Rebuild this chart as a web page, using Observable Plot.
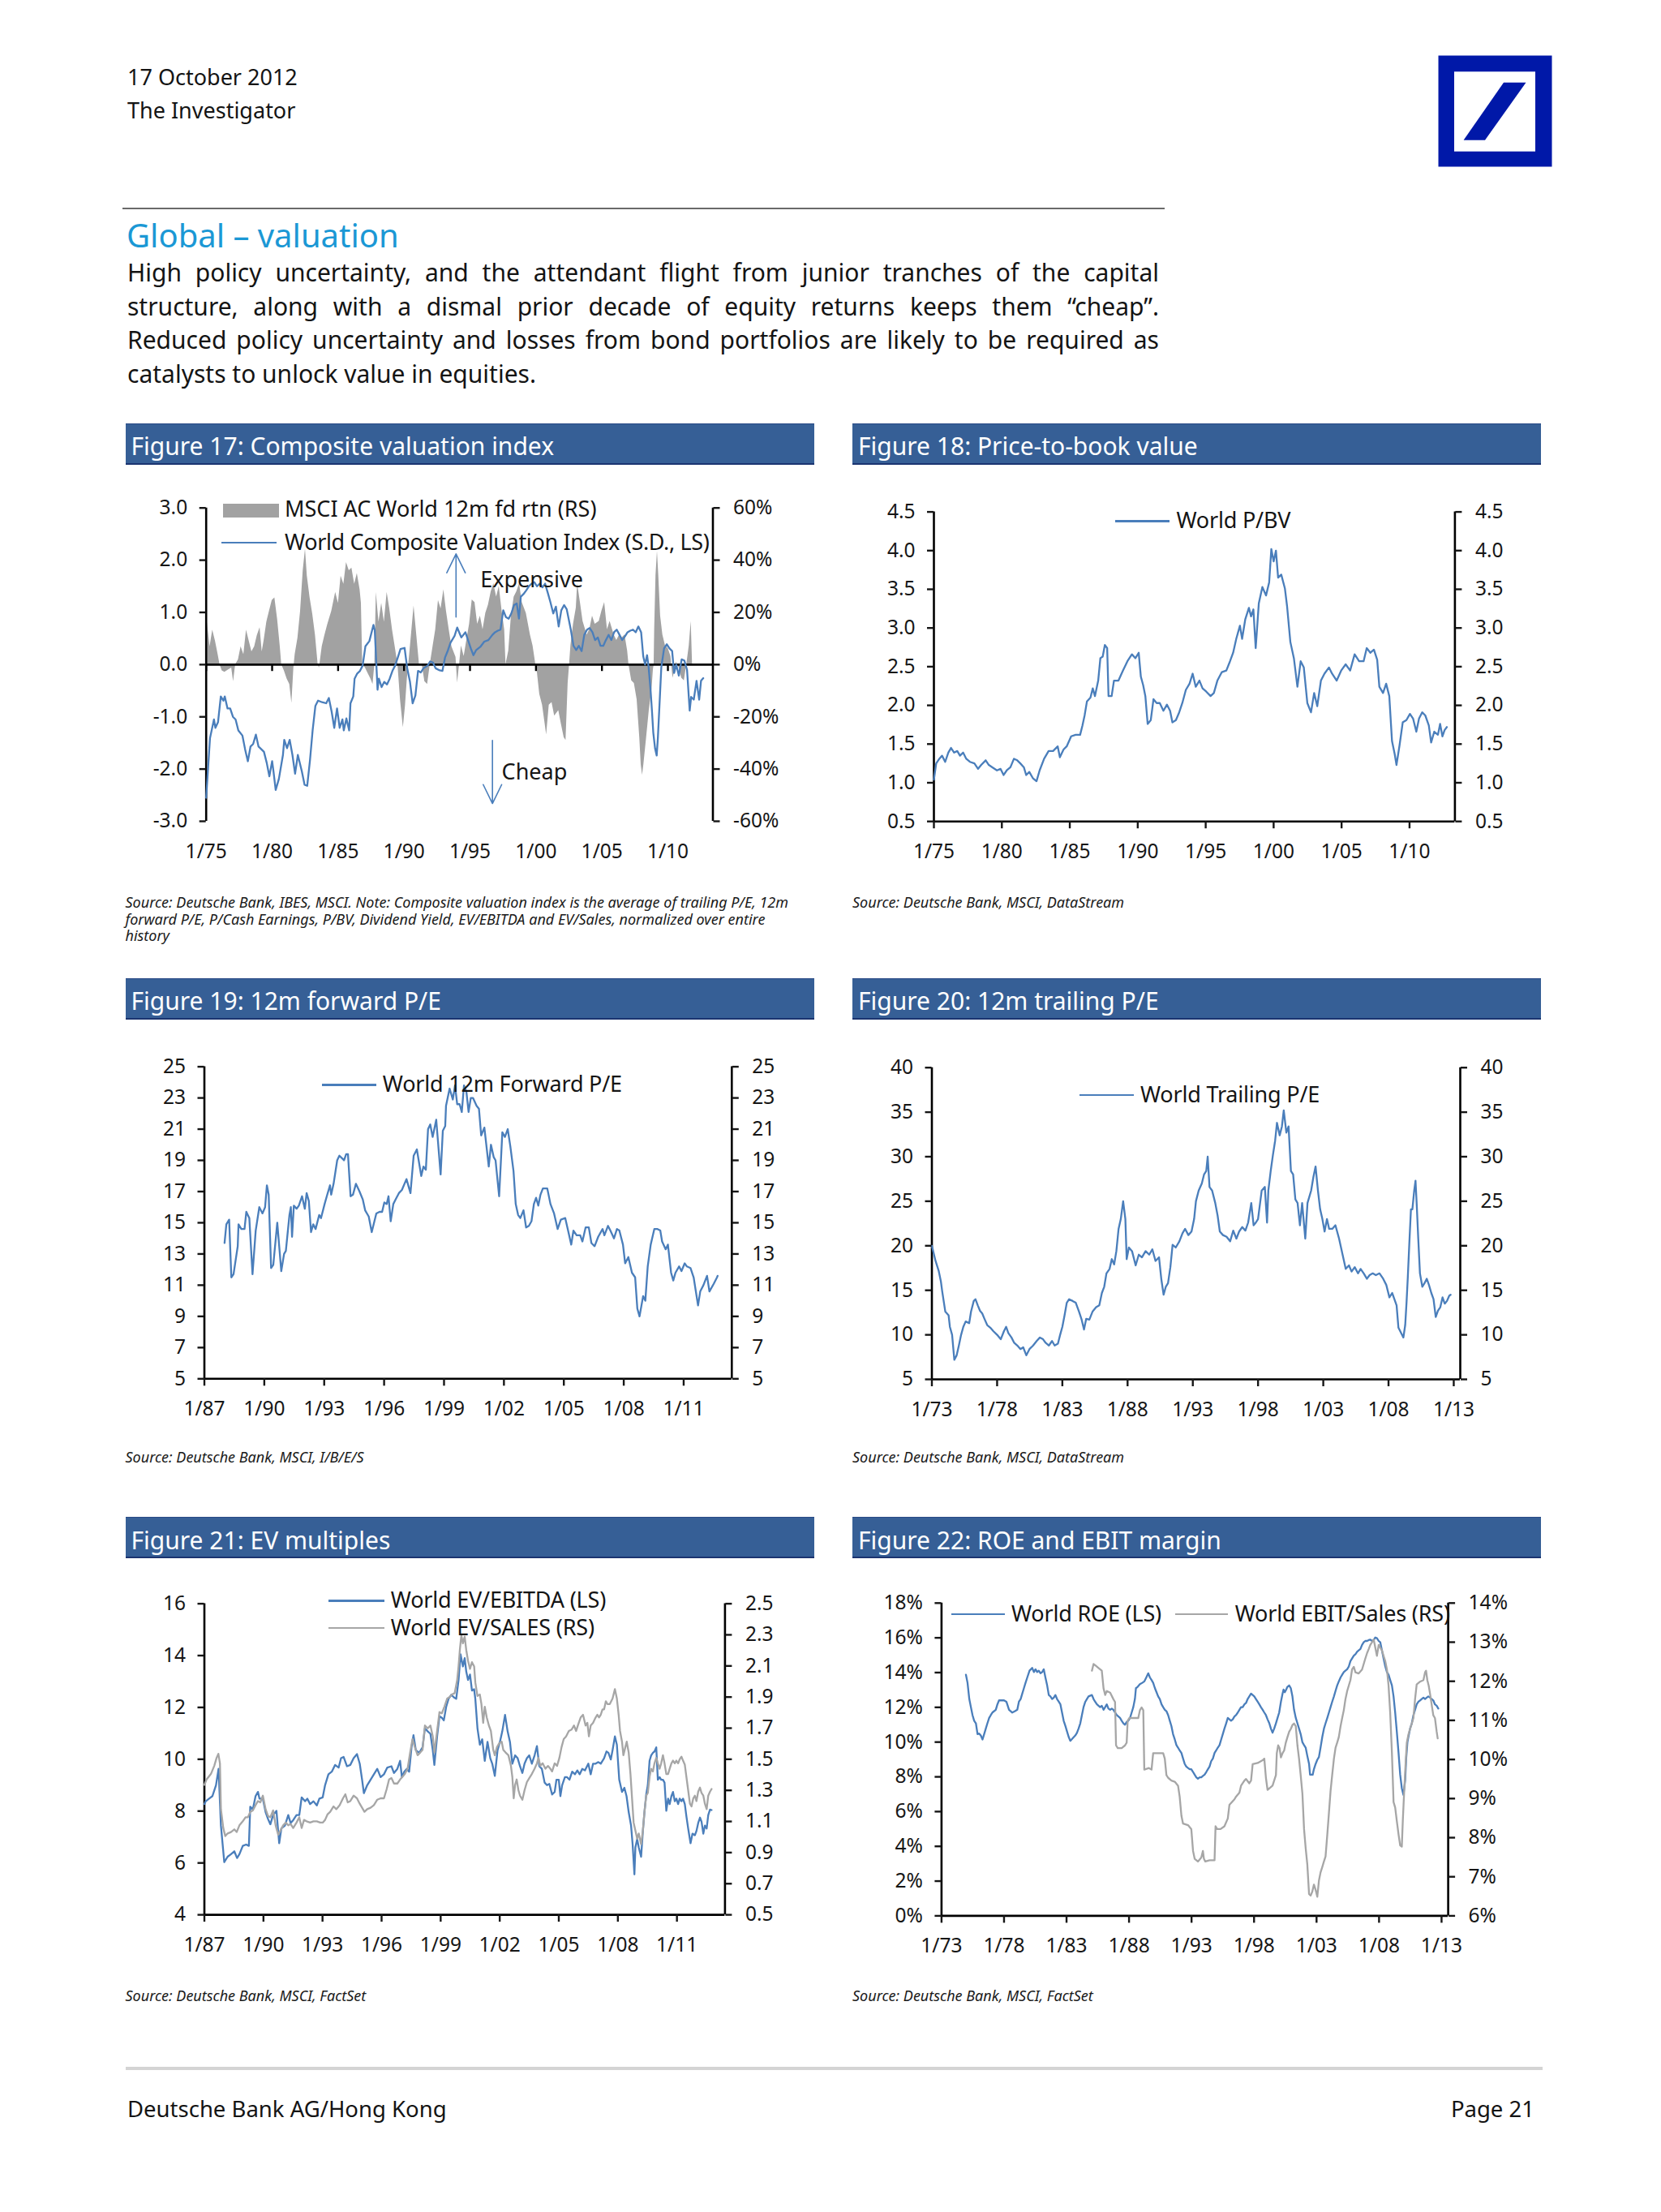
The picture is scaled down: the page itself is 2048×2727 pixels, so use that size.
<!DOCTYPE html>
<html>
<head>
<meta charset="utf-8">
<script src="https://cdn.jsdelivr.net/npm/d3@7"></script>
<script src="https://cdn.jsdelivr.net/npm/@observablehq/plot@0.6"></script>
<style>
  html, body { margin: 0; padding: 0; background: #ffffff; }
  #page { position: relative; width: 2048px; height: 2727px; background: #ffffff; overflow: hidden;
          font-family: "Noto Sans", "DejaVu Sans", sans-serif; color: #141414; }
  .t { position: absolute; white-space: nowrap; }
  .bar { position: absolute; background: #365f96; border-bottom: 2px solid #1b3470; border-top: 1px solid #2a4a86; box-sizing: border-box; }
  .bar span { position: absolute; left: 7px; color: #ffffff; font-size: 30px; line-height: 36px; white-space: nowrap; }
  .src { position: absolute; font-style: italic; font-size: 18px; line-height: 20.5px; color: #1a1a1a; white-space: nowrap; }
  .chart { position: absolute; }
  .para { position: absolute; left: 157px; width: 1272px; font-size: 30px; line-height: 41.5px; color: #141414; }
  .para div { text-align: justify; text-align-last: justify; white-space: normal; }
  .para div.last { text-align-last: left; }
</style>
</head>
<body>
<div id="page"></div>
<script>
// ---------------- DATA ----------------
// Figure 17: World Composite Valuation Index (S.D., left scale)  [decimal year, value]
const composite17 = [[1975.00,-2.55],[1975.29,-1.41],[1975.59,-1.05],[1975.70,-1.21],[1975.90,-1.10],[1976.11,-0.61],[1976.31,-0.69],[1976.41,-0.61],[1976.62,-0.84],[1976.82,-0.84],[1977.03,-1.00],[1977.23,-1.05],[1977.44,-1.26],[1977.75,-1.36],[1977.95,-1.62],[1978.16,-1.85],[1978.36,-1.57],[1978.56,-1.52],[1978.77,-1.34],[1978.97,-1.57],[1979.18,-1.62],[1979.38,-1.67],[1979.59,-1.88],[1979.79,-2.14],[1980.00,-1.85],[1980.10,-2.04],[1980.27,-2.40],[1980.51,-2.19],[1980.82,-1.73],[1980.92,-1.44],[1981.13,-1.60],[1981.33,-1.44],[1981.54,-1.73],[1981.74,-2.09],[1981.95,-1.73],[1982.25,-2.04],[1982.46,-2.30],[1982.66,-2.32],[1982.87,-1.83],[1983.07,-1.26],[1983.28,-0.79],[1983.48,-0.69],[1983.79,-0.72],[1984.10,-0.74],[1984.30,-0.64],[1984.51,-0.90],[1984.71,-1.21],[1984.92,-0.84],[1985.12,-1.21],[1985.33,-1.05],[1985.43,-1.26],[1985.63,-1.03],[1985.84,-1.26],[1985.94,-0.74],[1986.15,-0.61],[1986.25,-0.27],[1986.45,-0.17],[1986.66,-0.12],[1986.86,-0.02],[1987.07,0.35],[1987.37,0.45],[1987.68,0.76],[1987.78,0.66],[1987.99,-0.48],[1988.09,-0.27],[1988.30,-0.43],[1988.50,-0.33],[1988.71,-0.38],[1988.91,-0.27],[1989.12,-0.12],[1989.32,-0.02],[1989.53,0.14],[1989.73,0.30],[1990.04,0.32],[1990.24,-0.07],[1990.45,-0.33],[1990.65,-0.74],[1990.86,-0.59],[1991.06,-0.12],[1991.27,-0.15],[1991.47,-0.07],[1991.78,-0.02],[1991.98,0.06],[1992.19,0.04],[1992.39,-0.07],[1992.70,-0.11],[1992.91,-0.12],[1993.11,0.14],[1993.32,0.27],[1993.52,0.42],[1993.83,0.55],[1994.03,0.71],[1994.24,0.58],[1994.34,0.52],[1994.65,0.62],[1994.85,0.47],[1995.06,0.31],[1995.26,0.18],[1995.47,0.28],[1995.78,0.34],[1996.08,0.44],[1996.39,0.47],[1996.70,0.57],[1996.90,0.62],[1997.11,0.65],[1997.31,0.67],[1997.52,1.04],[1997.72,0.91],[1997.93,0.88],[1998.13,0.98],[1998.34,1.14],[1998.54,1.17],[1998.71,0.88],[1998.85,1.30],[1999.05,1.35],[1999.26,1.42],[1999.46,1.50],[1999.67,1.55],[1999.87,1.58],[2000.08,1.50],[2000.28,1.55],[2000.49,1.48],[2000.69,1.55],[2000.90,1.37],[2001.10,1.19],[2001.31,0.98],[2001.51,1.11],[2001.72,0.73],[2001.92,1.04],[2002.13,1.14],[2002.33,1.06],[2002.64,0.67],[2002.84,0.36],[2003.05,0.28],[2003.25,0.36],[2003.46,0.26],[2003.66,0.57],[2003.87,0.67],[2004.07,0.70],[2004.28,0.62],[2004.48,0.47],[2004.69,0.52],[2004.89,0.36],[2005.10,0.36],[2005.30,0.47],[2005.51,0.57],[2005.71,0.47],[2005.92,0.62],[2006.12,0.67],[2006.33,0.57],[2006.53,0.47],[2006.74,0.54],[2006.94,0.62],[2007.15,0.65],[2007.35,0.67],[2007.56,0.62],[2007.76,0.73],[2007.97,0.62],[2008.13,0.16],[2008.27,0.00],[2008.42,0.18],[2008.54,-0.05],[2008.68,-0.47],[2008.79,-0.88],[2008.89,-1.30],[2009.03,-1.61],[2009.15,-1.74],[2009.24,-1.40],[2009.36,-0.78],[2009.50,-0.05],[2009.71,0.31],[2009.91,0.39],[2010.12,0.31],[2010.32,0.26],[2010.47,-0.16],[2010.63,0.00],[2010.83,-0.21],[2011.04,0.10],[2011.24,0.08],[2011.45,-0.10],[2011.65,-0.88],[2011.76,-0.62],[2011.96,-0.67],[2012.17,-0.31],[2012.37,-0.67],[2012.51,-0.31],[2012.68,-0.26]];

// Figure 17: MSCI AC World 12m forward return (%, right scale)
const msci17 = [[1975.00,0],[1975.08,16.3],[1975.29,6.9],[1975.49,13.2],[1975.70,9.0],[1975.90,3.8],[1976.04,0],[1976.21,-2.4],[1976.41,-2.9],[1976.72,-1.9],[1976.93,-1.3],[1977.07,-6.5],[1977.23,0],[1977.44,1.8],[1977.64,6.9],[1977.85,3.8],[1978.05,13.2],[1978.26,9.0],[1978.46,4.9],[1978.67,6.9],[1978.87,11.1],[1979.08,14.2],[1979.24,4.9],[1979.38,9.0],[1979.59,16.3],[1979.79,20.4],[1980.00,24.6],[1980.20,25.6],[1980.41,17.3],[1980.61,6.9],[1980.72,0],[1980.92,-2.4],[1981.13,-5.5],[1981.33,-7.6],[1981.49,-14.8],[1981.64,-1.3],[1981.74,3.8],[1981.95,10.1],[1982.15,20.4],[1982.35,36.0],[1982.52,44.2],[1982.66,33.9],[1982.87,25.6],[1983.07,19.4],[1983.28,11.1],[1983.48,0],[1983.58,-1.3],[1983.79,6.9],[1983.99,11.1],[1984.20,15.2],[1984.51,20.4],[1984.81,27.7],[1985.02,23.5],[1985.22,33.9],[1985.43,30.8],[1985.63,39.1],[1985.84,36.0],[1986.04,37.0],[1986.25,30.8],[1986.45,34.9],[1986.66,28.7],[1986.76,23.5],[1986.86,0],[1987.07,-1.3],[1987.27,-3.4],[1987.48,-5.5],[1987.64,-7.6],[1987.78,0],[1987.89,27.7],[1988.09,16.3],[1988.30,23.5],[1988.50,16.3],[1988.71,27.7],[1988.91,21.4],[1989.12,13.2],[1989.32,6.9],[1989.53,0],[1989.73,-13.8],[1989.94,-24.1],[1990.10,-15.9],[1990.24,-5.5],[1990.35,0],[1990.55,11.1],[1990.75,22.5],[1990.96,11.1],[1991.16,0],[1991.37,0],[1991.57,-6.5],[1991.78,-7.6],[1991.98,0],[1992.19,6.9],[1992.39,13.2],[1992.60,24.6],[1992.80,21.4],[1993.01,28.7],[1993.21,20.4],[1993.42,13.2],[1993.62,6.9],[1993.93,2.8],[1994.05,-7.0],[1994.20,0],[1994.34,7.2],[1994.55,3.1],[1994.75,9.3],[1994.96,15.5],[1995.16,24.8],[1995.37,23.8],[1995.57,15.5],[1995.78,18.6],[1995.98,13.4],[1996.19,19.7],[1996.39,22.8],[1996.60,27.9],[1996.80,31.0],[1997.01,25.9],[1997.21,30.0],[1997.42,20.7],[1997.62,13.4],[1997.72,0],[1997.93,5.2],[1998.13,18.6],[1998.34,25.9],[1998.54,27.9],[1998.75,31.0],[1998.95,23.8],[1999.26,19.7],[1999.57,11.4],[1999.77,7.2],[1999.98,0],[2000.08,-2.1],[2000.28,-11.4],[2000.49,-15.5],[2000.69,-22.8],[2000.80,-26.9],[2001.00,-15.5],[2001.21,-14.5],[2001.41,-19.7],[2001.72,-17.6],[2001.92,-22.8],[2002.13,-27.9],[2002.27,-29.0],[2002.43,-7.2],[2002.54,0],[2002.64,7.2],[2002.84,15.5],[2003.05,21.7],[2003.15,31.0],[2003.36,23.8],[2003.56,16.6],[2003.87,11.4],[2004.07,13.4],[2004.28,18.6],[2004.48,15.5],[2004.79,16.6],[2005.00,20.7],[2005.20,23.8],[2005.41,13.4],[2005.61,16.6],[2005.92,11.4],[2006.12,9.3],[2006.33,11.4],[2006.53,10.3],[2006.74,11.4],[2006.94,5.2],[2007.04,0],[2007.25,-6.2],[2007.45,-7.2],[2007.66,-13.4],[2007.86,-27.9],[2007.97,-38.3],[2008.07,-42.4],[2008.17,-38.3],[2008.38,-27.9],[2008.58,-17.6],[2008.79,-9.3],[2008.89,-2.1],[2008.95,0],[2008.99,13.4],[2009.09,34.1],[2009.20,43.4],[2009.30,34.1],[2009.44,18.6],[2009.61,11.4],[2009.81,7.2],[2010.02,6.2],[2010.22,3.1],[2010.38,-5.2],[2010.53,-2.1],[2010.63,1.0],[2010.83,-1.0],[2011.04,-5.2],[2011.24,-6.2],[2011.45,1.0],[2011.61,7.2],[2011.76,16.6],[2011.86,0]];

// Figure 18: World P/BV
const pbv18 = [[1975.00,1.04],[1975.17,1.25],[1975.40,1.31],[1975.60,1.35],[1975.83,1.27],[1976.06,1.39],[1976.26,1.45],[1976.49,1.39],[1976.72,1.41],[1976.92,1.35],[1977.15,1.39],[1977.38,1.31],[1977.65,1.27],[1977.98,1.25],[1978.25,1.18],[1978.48,1.23],[1978.81,1.29],[1979.04,1.23],[1979.30,1.20],[1979.64,1.16],[1979.90,1.18],[1980.13,1.10],[1980.36,1.16],[1980.63,1.20],[1980.89,1.31],[1981.13,1.29],[1981.36,1.25],[1981.62,1.20],[1981.79,1.10],[1982.02,1.14],[1982.28,1.06],[1982.55,1.02],[1982.78,1.16],[1983.11,1.31],[1983.44,1.41],[1983.77,1.41],[1984.11,1.47],[1984.27,1.33],[1984.54,1.43],[1984.77,1.47],[1985.10,1.60],[1985.43,1.62],[1985.76,1.62],[1985.93,1.74],[1986.09,1.87],[1986.26,2.05],[1986.52,2.10],[1986.69,2.22],[1986.85,2.12],[1987.09,2.32],[1987.25,2.61],[1987.42,2.63],[1987.58,2.78],[1987.75,2.74],[1987.85,2.12],[1988.08,2.12],[1988.25,2.32],[1988.58,2.32],[1988.91,2.45],[1989.24,2.57],[1989.57,2.66],[1989.83,2.61],[1990.07,2.68],[1990.23,2.37],[1990.40,2.26],[1990.56,2.12],[1990.73,1.76],[1990.96,1.81],[1991.16,2.08],[1991.39,2.03],[1991.62,2.03],[1991.89,1.93],[1992.15,2.01],[1992.38,1.93],[1992.55,1.78],[1992.81,1.81],[1993.05,1.91],[1993.28,2.03],[1993.54,2.20],[1993.81,2.28],[1994.04,2.41],[1994.27,2.24],[1994.54,2.32],[1994.77,2.22],[1995.03,2.18],[1995.36,2.12],[1995.60,2.16],[1995.86,2.32],[1996.19,2.43],[1996.52,2.45],[1996.79,2.57],[1997.02,2.68],[1997.25,2.86],[1997.52,3.03],[1997.68,2.86],[1997.91,3.11],[1998.18,3.26],[1998.34,3.15],[1998.51,3.24],[1998.68,2.74],[1998.91,3.32],[1999.17,3.53],[1999.44,3.42],[1999.67,3.59],[1999.83,4.02],[2000.00,3.86],[2000.17,4.00],[2000.33,3.65],[2000.56,3.69],[2000.83,3.51],[2000.99,3.28],[2001.23,2.82],[2001.49,2.61],[2001.75,2.24],[2001.99,2.57],[2002.22,2.49],[2002.48,2.03],[2002.75,1.91],[2002.98,2.16],[2003.21,1.99],[2003.48,2.32],[2003.74,2.41],[2004.07,2.49],[2004.30,2.41],[2004.64,2.32],[2004.97,2.45],[2005.30,2.53],[2005.63,2.45],[2005.96,2.66],[2006.29,2.57],[2006.62,2.57],[2006.85,2.74],[2007.12,2.68],[2007.38,2.72],[2007.62,2.59],[2007.78,2.24],[2008.05,2.16],[2008.28,2.28],[2008.51,2.12],[2008.71,1.54],[2008.91,1.37],[2009.04,1.23],[2009.27,1.49],[2009.50,1.78],[2009.77,1.81],[2010.03,1.89],[2010.26,1.83],[2010.50,1.66],[2010.70,1.83],[2010.93,1.91],[2011.16,1.87],[2011.42,1.74],[2011.59,1.52],[2011.82,1.66],[2012.09,1.62],[2012.25,1.76],[2012.42,1.60],[2012.58,1.68],[2012.75,1.72]];

// Figure 19: World 12m Forward P/E
const fpe19 = [[1988.01,13.7],[1988.10,14.9],[1988.24,15.2],[1988.35,11.5],[1988.46,11.7],[1988.67,13.5],[1988.71,14.9],[1988.85,14.6],[1989.01,14.6],[1989.10,15.7],[1989.25,15.3],[1989.41,11.7],[1989.57,14.5],[1989.75,16.0],[1989.91,15.6],[1990.04,16.0],[1990.13,17.4],[1990.22,16.8],[1990.34,12.1],[1990.45,12.3],[1990.65,15.0],[1990.85,11.9],[1990.99,13.0],[1991.08,13.2],[1991.26,15.5],[1991.33,16.0],[1991.39,14.1],[1991.48,16.1],[1991.62,15.9],[1991.73,16.1],[1991.89,16.7],[1992.03,15.9],[1992.12,16.9],[1992.23,16.4],[1992.34,14.4],[1992.45,14.9],[1992.57,14.6],[1992.75,15.5],[1992.84,15.3],[1993.02,16.2],[1993.13,16.7],[1993.29,17.4],[1993.35,16.8],[1993.47,17.5],[1993.65,19.0],[1993.76,19.3],[1993.92,19.1],[1993.99,19.0],[1994.10,19.4],[1994.19,19.4],[1994.32,16.7],[1994.44,16.8],[1994.59,17.5],[1994.77,17.0],[1994.93,16.5],[1995.05,15.8],[1995.23,15.4],[1995.38,14.4],[1995.61,15.6],[1995.77,15.7],[1995.90,15.7],[1996.01,16.3],[1996.13,16.2],[1996.22,16.7],[1996.33,15.1],[1996.46,16.2],[1996.58,16.5],[1996.74,16.9],[1996.89,17.1],[1997.12,17.8],[1997.32,16.9],[1997.48,19.3],[1997.64,19.7],[1997.86,18.0],[1997.97,18.6],[1998.09,18.4],[1998.20,21.0],[1998.31,21.3],[1998.43,20.5],[1998.61,21.6],[1998.83,18.1],[1998.94,20.9],[1999.06,21.2],[1999.10,22.5],[1999.28,23.6],[1999.44,22.9],[1999.55,23.8],[1999.66,22.6],[1999.78,22.6],[1999.89,22.1],[2000.00,23.8],[2000.12,23.4],[2000.23,22.1],[2000.34,23.0],[2000.45,23.0],[2000.63,22.5],[2000.75,22.3],[2000.86,20.6],[2001.02,21.1],[2001.24,18.6],[2001.35,20.0],[2001.49,19.2],[2001.58,19.0],[2001.76,16.7],[2001.92,20.8],[2002.05,20.5],[2002.19,21.0],[2002.32,19.9],[2002.48,18.3],[2002.59,16.2],[2002.71,15.5],[2002.82,15.3],[2002.98,15.8],[2003.11,14.7],[2003.25,14.8],[2003.38,15.1],[2003.50,16.2],[2003.61,16.6],[2003.72,16.1],[2003.83,16.8],[2003.95,17.2],[2004.17,17.2],[2004.33,16.2],[2004.51,15.6],[2004.69,14.6],[2004.85,15.2],[2005.07,15.3],[2005.23,14.4],[2005.37,13.6],[2005.48,14.5],[2005.64,14.2],[2005.82,14.2],[2005.93,13.8],[2006.09,14.7],[2006.25,14.7],[2006.38,13.7],[2006.54,13.5],[2006.72,14.1],[2006.94,14.6],[2007.03,14.2],[2007.21,14.8],[2007.33,14.5],[2007.51,14.0],[2007.66,14.6],[2007.78,14.5],[2007.96,13.6],[2008.07,12.4],[2008.23,12.8],[2008.41,11.8],[2008.57,11.5],[2008.68,9.5],[2008.79,9.0],[2008.97,10.3],[2009.08,10.0],[2009.20,12.2],[2009.35,13.6],[2009.53,14.6],[2009.69,14.6],[2009.83,14.5],[2009.92,13.8],[2010.10,13.3],[2010.21,13.6],[2010.37,11.8],[2010.48,11.3],[2010.59,11.8],[2010.77,12.2],[2010.89,11.9],[2011.05,12.4],[2011.16,12.2],[2011.34,12.1],[2011.50,11.5],[2011.72,9.7],[2011.83,10.6],[2011.99,11.0],[2012.17,11.6],[2012.29,10.6],[2012.51,11.1],[2012.67,11.5],[2012.70,11.6]];

// Figure 20: World Trailing P/E
const tpe20 = [[1973.00,20.0],[1973.28,18.3],[1973.52,17.2],[1973.69,16.0],[1973.79,14.9],[1974.03,12.6],[1974.28,12.2],[1974.38,10.9],[1974.55,10.0],[1974.72,7.2],[1974.90,7.7],[1975.07,8.8],[1975.24,10.0],[1975.41,10.9],[1975.59,11.5],[1975.86,11.3],[1976.00,12.6],[1976.21,13.8],[1976.34,14.0],[1976.52,13.3],[1976.69,12.7],[1976.86,12.4],[1977.03,11.8],[1977.24,11.1],[1977.48,10.8],[1977.72,10.4],[1978.00,10.0],[1978.28,9.5],[1978.52,10.4],[1978.69,10.9],[1978.86,10.2],[1979.10,9.7],[1979.31,9.1],[1979.55,8.8],[1979.79,8.4],[1980.00,8.6],[1980.24,7.7],[1980.48,8.4],[1980.76,8.8],[1981.03,9.3],[1981.28,9.7],[1981.52,9.5],[1981.72,9.1],[1981.97,8.8],[1982.21,9.3],[1982.41,8.8],[1982.66,9.0],[1982.83,10.0],[1983.00,10.9],[1983.17,12.2],[1983.34,13.6],[1983.52,14.0],[1983.79,13.8],[1984.03,13.6],[1984.28,12.6],[1984.48,11.7],[1984.66,10.6],[1984.83,11.8],[1985.07,11.7],[1985.31,12.6],[1985.59,13.1],[1985.83,13.3],[1986.03,14.7],[1986.21,15.4],[1986.38,16.9],[1986.62,17.4],[1986.79,18.5],[1986.97,17.9],[1987.14,19.4],[1987.31,21.9],[1987.48,23.0],[1987.66,25.0],[1987.83,23.0],[1987.93,18.5],[1988.10,19.8],[1988.34,19.4],[1988.62,17.8],[1988.86,19.0],[1989.10,18.7],[1989.38,19.4],[1989.66,19.0],[1989.90,19.6],[1990.14,18.3],[1990.41,18.7],[1990.59,16.2],[1990.76,14.5],[1990.93,15.4],[1991.10,15.8],[1991.28,17.6],[1991.45,20.1],[1991.69,19.8],[1991.97,20.5],[1992.21,21.4],[1992.41,21.9],[1992.66,21.2],[1992.90,21.6],[1993.10,23.0],[1993.24,25.0],[1993.45,26.2],[1993.69,27.0],[1993.86,28.0],[1994.03,28.4],[1994.14,30.0],[1994.28,26.6],[1994.48,26.2],[1994.72,24.8],[1994.90,23.4],[1995.07,21.6],[1995.31,21.2],[1995.59,21.0],[1995.86,20.5],[1996.10,21.7],[1996.34,20.8],[1996.55,21.6],[1996.79,22.1],[1997.03,21.7],[1997.24,22.6],[1997.48,24.8],[1997.66,22.3],[1997.83,22.6],[1998.00,23.0],[1998.28,26.2],[1998.52,26.6],[1998.69,22.6],[1998.79,26.2],[1998.97,28.4],[1999.14,30.2],[1999.31,31.8],[1999.45,33.8],[1999.66,32.4],[1999.83,33.4],[1999.97,35.2],[2000.17,32.7],[2000.34,33.4],[2000.52,28.4],[2000.69,28.0],[2000.86,25.2],[2001.03,24.8],[2001.21,22.3],[2001.38,24.8],[2001.62,20.8],[2001.79,24.8],[2002.07,26.2],[2002.24,27.7],[2002.41,28.9],[2002.59,26.2],[2002.76,24.1],[2002.93,23.0],[2003.10,21.6],[2003.28,23.0],[2003.45,21.9],[2003.69,21.9],[2003.93,22.3],[2004.21,20.8],[2004.48,19.0],[2004.72,17.4],[2004.97,17.8],[2005.17,17.1],[2005.41,17.6],[2005.66,16.9],[2005.86,17.4],[2006.10,16.9],[2006.34,16.3],[2006.55,16.7],[2006.79,16.9],[2007.03,16.7],[2007.31,16.9],[2007.59,16.3],[2007.83,15.6],[2008.07,14.2],[2008.28,14.7],[2008.45,14.0],[2008.62,13.3],[2008.76,10.8],[2008.97,10.2],[2009.14,9.7],[2009.28,11.1],[2009.38,13.6],[2009.48,16.5],[2009.59,20.1],[2009.72,24.1],[2009.83,24.1],[2009.97,26.2],[2010.07,27.3],[2010.17,24.4],[2010.28,20.8],[2010.41,16.9],[2010.59,15.4],[2010.76,15.8],[2010.93,16.3],[2011.10,15.6],[2011.28,14.7],[2011.45,14.0],[2011.62,12.0],[2011.79,12.7],[2011.97,13.1],[2012.14,14.2],[2012.31,13.5],[2012.48,13.8],[2012.66,14.4],[2012.76,14.5]];

// Figure 21: World EV/EBITDA (left scale)
const evebitda21 = [[1987.00,8.27],[1987.07,8.38],[1987.24,8.48],[1987.41,8.58],[1987.59,9.00],[1987.72,9.63],[1987.84,7.44],[1988.01,6.03],[1988.18,6.24],[1988.35,6.34],[1988.52,6.45],[1988.66,6.19],[1988.78,6.34],[1988.95,6.66],[1989.12,6.71],[1989.26,6.66],[1989.33,8.17],[1989.46,8.06],[1989.60,8.58],[1989.72,8.74],[1989.80,8.48],[1989.97,8.48],[1990.11,7.96],[1990.23,7.70],[1990.35,7.49],[1990.49,7.85],[1990.66,8.01],[1990.80,6.76],[1990.91,7.33],[1991.09,7.44],[1991.26,7.85],[1991.38,7.54],[1991.51,7.65],[1991.68,7.85],[1991.82,7.85],[1991.94,8.53],[1992.11,8.38],[1992.23,8.48],[1992.37,8.27],[1992.54,8.38],[1992.71,8.22],[1992.84,8.48],[1993.01,8.53],[1993.13,9.00],[1993.30,9.42],[1993.47,9.52],[1993.64,9.78],[1993.82,9.68],[1993.94,10.04],[1994.07,10.09],[1994.24,9.73],[1994.41,9.78],[1994.58,10.04],[1994.75,10.20],[1994.89,9.83],[1995.01,9.21],[1995.10,8.69],[1995.27,9.00],[1995.44,9.21],[1995.61,9.42],[1995.78,9.63],[1995.95,9.31],[1996.12,9.42],[1996.29,9.68],[1996.50,9.73],[1996.63,9.47],[1996.80,9.63],[1996.94,9.94],[1997.03,9.31],[1997.15,9.52],[1997.28,9.63],[1997.40,9.52],[1997.52,10.46],[1997.62,10.93],[1997.74,10.35],[1997.91,10.25],[1998.08,10.46],[1998.20,11.19],[1998.34,11.08],[1998.48,10.98],[1998.60,10.35],[1998.68,9.78],[1998.82,10.88],[1998.94,11.66],[1999.06,11.60],[1999.16,11.50],[1999.28,12.02],[1999.40,12.33],[1999.54,12.49],[1999.67,12.39],[1999.79,12.33],[1999.91,13.06],[2000.01,14.05],[2000.13,13.58],[2000.22,13.90],[2000.30,13.38],[2000.39,13.06],[2000.49,13.27],[2000.59,12.65],[2000.70,12.70],[2000.76,12.33],[2000.87,11.19],[2000.99,10.56],[2001.11,10.77],[2001.24,9.94],[2001.38,10.67],[2001.52,10.04],[2001.62,9.83],[2001.75,9.36],[2001.89,10.35],[2002.01,10.67],[2002.13,11.08],[2002.27,11.71],[2002.40,11.08],[2002.52,10.67],[2002.64,9.83],[2002.78,10.15],[2002.91,10.04],[2003.03,9.73],[2003.15,9.47],[2003.26,9.83],[2003.38,10.04],[2003.50,10.15],[2003.63,9.83],[2003.77,10.15],[2003.89,10.51],[2004.01,9.73],[2004.14,9.63],[2004.28,9.10],[2004.40,9.00],[2004.52,9.05],[2004.66,8.64],[2004.79,8.74],[2004.88,9.21],[2005.00,9.21],[2005.08,8.58],[2005.17,9.00],[2005.31,9.31],[2005.42,9.31],[2005.54,9.21],[2005.68,9.52],[2005.82,9.42],[2005.94,9.57],[2006.06,9.42],[2006.19,9.63],[2006.33,9.57],[2006.50,9.83],[2006.62,9.42],[2006.74,9.83],[2006.87,9.83],[2007.01,9.89],[2007.13,9.83],[2007.30,10.04],[2007.42,10.30],[2007.52,10.25],[2007.64,9.99],[2007.73,10.35],[2007.85,10.88],[2007.95,10.56],[2008.07,9.21],[2008.21,8.74],[2008.33,8.90],[2008.44,8.58],[2008.55,7.96],[2008.67,7.44],[2008.75,6.71],[2008.84,5.56],[2008.89,6.60],[2008.98,6.92],[2009.06,6.60],[2009.18,6.24],[2009.27,7.23],[2009.35,7.96],[2009.44,8.64],[2009.52,9.00],[2009.61,9.94],[2009.69,10.15],[2009.78,10.25],[2009.86,10.30],[2009.95,10.46],[2010.03,9.21],[2010.12,9.31],[2010.20,9.21],[2010.29,9.21],[2010.37,9.10],[2010.46,8.01],[2010.55,8.48],[2010.63,8.27],[2010.72,8.58],[2010.80,8.74],[2010.89,8.38],[2010.97,8.48],[2011.06,8.27],[2011.14,8.48],[2011.23,8.38],[2011.31,8.48],[2011.40,8.27],[2011.48,7.80],[2011.57,7.33],[2011.69,6.76],[2011.79,7.13],[2011.91,7.07],[2011.99,7.23],[2012.08,7.54],[2012.17,7.75],[2012.25,7.59],[2012.34,7.13],[2012.42,7.44],[2012.51,7.33],[2012.59,7.85],[2012.68,8.06],[2012.76,8.04]];

// Figure 21: World EV/SALES (right scale)
const evsales21 = [[1987.00,1.335],[1987.11,1.370],[1987.33,1.405],[1987.50,1.457],[1987.62,1.509],[1987.71,1.535],[1987.79,1.474],[1987.84,1.179],[1987.96,1.058],[1988.06,1.006],[1988.18,1.023],[1988.35,1.032],[1988.52,1.049],[1988.64,1.032],[1988.78,1.075],[1988.95,1.101],[1989.09,1.127],[1989.21,1.127],[1989.33,1.162],[1989.46,1.171],[1989.60,1.205],[1989.72,1.231],[1989.84,1.223],[1989.97,1.266],[1990.11,1.179],[1990.23,1.136],[1990.35,1.127],[1990.49,1.171],[1990.62,1.075],[1990.75,1.015],[1990.86,1.041],[1991.00,1.075],[1991.14,1.093],[1991.26,1.075],[1991.38,1.084],[1991.51,1.058],[1991.68,1.093],[1991.82,1.127],[1991.94,1.058],[1992.06,1.110],[1992.19,1.101],[1992.37,1.093],[1992.54,1.101],[1992.71,1.101],[1992.88,1.093],[1993.01,1.093],[1993.13,1.110],[1993.25,1.145],[1993.39,1.162],[1993.56,1.197],[1993.70,1.179],[1993.87,1.205],[1994.04,1.249],[1994.16,1.275],[1994.28,1.223],[1994.41,1.231],[1994.58,1.266],[1994.75,1.249],[1994.89,1.214],[1995.01,1.188],[1995.13,1.162],[1995.27,1.179],[1995.44,1.188],[1995.61,1.205],[1995.78,1.240],[1995.95,1.249],[1996.12,1.249],[1996.26,1.309],[1996.38,1.370],[1996.50,1.379],[1996.63,1.344],[1996.80,1.344],[1996.94,1.370],[1997.06,1.387],[1997.18,1.405],[1997.32,1.439],[1997.45,1.543],[1997.57,1.630],[1997.69,1.578],[1997.83,1.526],[1997.96,1.543],[1998.08,1.561],[1998.20,1.717],[1998.34,1.699],[1998.48,1.717],[1998.60,1.647],[1998.68,1.543],[1998.82,1.682],[1998.94,1.803],[1999.06,1.795],[1999.19,1.838],[1999.33,1.890],[1999.45,1.899],[1999.57,1.916],[1999.71,1.925],[1999.84,2.011],[1999.91,2.098],[1999.98,2.211],[2000.05,2.297],[2000.13,2.245],[2000.22,2.289],[2000.30,2.202],[2000.39,2.133],[2000.49,2.081],[2000.59,2.124],[2000.70,2.098],[2000.76,1.994],[2000.87,1.907],[2000.99,1.916],[2001.07,1.855],[2001.16,1.734],[2001.24,1.838],[2001.34,1.769],[2001.45,1.717],[2001.55,1.682],[2001.67,1.561],[2001.75,1.526],[2001.86,1.578],[2001.98,1.604],[2002.10,1.613],[2002.18,1.561],[2002.30,1.543],[2002.44,1.526],[2002.57,1.457],[2002.64,1.387],[2002.71,1.249],[2002.78,1.335],[2002.86,1.370],[2002.95,1.301],[2003.03,1.266],[2003.15,1.240],[2003.26,1.301],[2003.38,1.353],[2003.50,1.379],[2003.63,1.405],[2003.77,1.439],[2003.89,1.474],[2003.97,1.509],[2004.06,1.457],[2004.18,1.474],[2004.32,1.439],[2004.45,1.457],[2004.57,1.439],[2004.66,1.422],[2004.79,1.474],[2004.91,1.457],[2005.03,1.509],[2005.14,1.578],[2005.25,1.630],[2005.37,1.647],[2005.51,1.682],[2005.65,1.691],[2005.77,1.717],[2005.88,1.682],[2005.99,1.725],[2006.11,1.769],[2006.23,1.786],[2006.36,1.717],[2006.45,1.734],[2006.53,1.647],[2006.62,1.717],[2006.74,1.734],[2006.87,1.769],[2006.96,1.786],[2007.04,1.769],[2007.13,1.786],[2007.22,1.821],[2007.30,1.821],[2007.39,1.873],[2007.47,1.855],[2007.59,1.855],[2007.73,1.890],[2007.85,1.951],[2007.95,1.890],[2008.04,1.786],[2008.11,1.682],[2008.21,1.613],[2008.28,1.526],[2008.38,1.578],[2008.45,1.613],[2008.55,1.543],[2008.64,1.405],[2008.72,1.249],[2008.80,1.093],[2008.89,1.041],[2008.98,0.989],[2009.06,1.023],[2009.18,0.954],[2009.27,1.041],[2009.35,1.162],[2009.44,1.266],[2009.52,1.283],[2009.61,1.387],[2009.69,1.439],[2009.78,1.422],[2009.86,1.474],[2009.95,1.509],[2010.03,1.474],[2010.12,1.439],[2010.20,1.474],[2010.29,1.526],[2010.37,1.474],[2010.46,1.405],[2010.55,1.405],[2010.63,1.439],[2010.72,1.474],[2010.80,1.491],[2010.89,1.474],[2010.97,1.491],[2011.06,1.474],[2011.14,1.500],[2011.23,1.517],[2011.31,1.491],[2011.40,1.465],[2011.48,1.387],[2011.57,1.301],[2011.66,1.214],[2011.74,1.197],[2011.83,1.249],[2011.91,1.266],[2011.99,1.231],[2012.08,1.292],[2012.17,1.318],[2012.25,1.283],[2012.34,1.266],[2012.42,1.214],[2012.51,1.179],[2012.59,1.266],[2012.68,1.292],[2012.76,1.309]];

// Figure 22: World ROE (%, left scale)
const roe22 = [[1974.95,13.88],[1975.08,13.41],[1975.22,12.48],[1975.35,12.01],[1975.48,11.55],[1975.61,11.23],[1975.75,11.08],[1975.88,10.46],[1976.01,10.49],[1976.14,10.38],[1976.28,10.15],[1976.41,10.46],[1976.54,10.77],[1976.67,11.08],[1976.81,11.39],[1976.94,11.55],[1977.07,11.70],[1977.34,11.86],[1977.47,12.17],[1977.60,12.40],[1977.87,12.40],[1978.00,12.40],[1978.19,12.32],[1978.40,11.86],[1978.66,11.70],[1978.88,11.78],[1979.06,11.86],[1979.19,12.32],[1979.33,12.48],[1979.46,12.79],[1979.59,13.10],[1979.72,13.41],[1979.86,13.72],[1980.04,14.11],[1980.25,14.27],[1980.39,14.03],[1980.52,14.19],[1980.65,14.03],[1980.78,14.11],[1980.92,13.96],[1981.05,14.03],[1981.18,14.19],[1981.31,13.72],[1981.45,13.26],[1981.58,12.71],[1981.71,12.63],[1981.85,12.48],[1981.98,12.56],[1982.11,12.71],[1982.24,12.48],[1982.38,12.32],[1982.51,12.17],[1982.64,11.70],[1982.77,11.23],[1982.91,10.92],[1983.04,10.61],[1983.17,10.30],[1983.30,10.07],[1983.49,10.22],[1983.70,10.38],[1983.83,10.53],[1983.96,10.77],[1984.10,11.08],[1984.23,11.55],[1984.36,12.01],[1984.50,12.32],[1984.63,12.48],[1984.76,12.63],[1985.03,12.71],[1985.16,12.48],[1985.29,12.32],[1985.43,12.17],[1985.56,12.09],[1985.69,12.01],[1985.82,12.09],[1985.96,11.86],[1986.09,12.01],[1986.22,12.17],[1986.35,11.93],[1986.49,11.86],[1986.62,11.93],[1986.75,11.86],[1986.88,11.70],[1987.02,11.55],[1987.15,11.47],[1987.28,11.39],[1987.41,11.23],[1987.55,11.08],[1987.68,11.00],[1987.81,11.16],[1987.94,11.23],[1988.08,11.39],[1988.21,11.70],[1988.34,12.01],[1988.47,12.48],[1988.55,13.10],[1988.69,13.18],[1988.87,13.33],[1989.06,13.41],[1989.22,13.49],[1989.38,13.72],[1989.54,13.96],[1989.67,13.72],[1989.80,13.57],[1989.93,13.41],[1990.07,13.10],[1990.20,12.87],[1990.33,12.63],[1990.46,12.48],[1990.60,12.17],[1990.73,12.01],[1990.86,11.86],[1990.99,11.78],[1991.13,11.55],[1991.26,11.23],[1991.39,10.92],[1991.52,10.46],[1991.66,10.15],[1991.79,9.83],[1991.92,9.68],[1992.05,9.52],[1992.19,9.37],[1992.32,9.06],[1992.45,8.75],[1992.58,8.59],[1992.72,8.51],[1992.85,8.44],[1992.98,8.44],[1993.12,8.28],[1993.25,8.12],[1993.38,7.97],[1993.51,7.89],[1993.65,7.97],[1993.78,7.97],[1993.91,8.05],[1994.04,8.12],[1994.18,8.28],[1994.31,8.44],[1994.44,8.59],[1994.57,8.90],[1994.71,9.06],[1994.84,9.37],[1994.97,9.52],[1995.10,9.68],[1995.24,9.83],[1995.37,10.15],[1995.50,10.46],[1995.63,10.77],[1995.77,11.08],[1995.90,11.39],[1996.03,11.31],[1996.16,11.23],[1996.30,11.31],[1996.43,11.47],[1996.56,11.55],[1996.70,11.70],[1996.83,11.86],[1996.96,12.01],[1997.09,12.01],[1997.23,12.17],[1997.36,12.25],[1997.49,12.48],[1997.62,12.63],[1997.76,12.79],[1997.89,12.71],[1998.02,12.63],[1998.15,12.48],[1998.29,12.32],[1998.42,12.17],[1998.55,12.01],[1998.69,11.86],[1998.82,11.70],[1998.95,11.55],[1999.08,11.31],[1999.22,11.08],[1999.35,10.77],[1999.48,10.54],[1999.61,10.77],[1999.75,11.08],[1999.88,11.39],[2000.01,11.70],[2000.15,12.32],[2000.28,12.79],[2000.36,13.02],[2000.46,12.87],[2000.57,13.02],[2000.67,13.18],[2000.81,13.26],[2000.94,13.10],[2001.07,12.63],[2001.20,11.86],[2001.34,11.39],[2001.47,11.08],[2001.60,10.77],[2001.73,10.46],[2001.87,9.99],[2002.00,9.83],[2002.13,9.68],[2002.26,9.21],[2002.40,8.75],[2002.48,8.12],[2002.69,8.12],[2002.79,8.44],[2002.93,8.75],[2003.06,8.98],[2003.19,9.14],[2003.32,9.68],[2003.46,10.30],[2003.59,10.77],[2003.72,11.08],[2003.86,11.39],[2003.99,11.70],[2004.12,12.01],[2004.25,12.32],[2004.39,12.63],[2004.52,12.95],[2004.65,13.26],[2004.78,13.49],[2004.92,13.72],[2005.05,13.88],[2005.18,14.03],[2005.31,14.11],[2005.45,14.19],[2005.58,14.35],[2005.71,14.66],[2005.84,14.81],[2005.98,14.97],[2006.11,15.05],[2006.24,15.20],[2006.37,15.28],[2006.51,15.36],[2006.64,15.59],[2006.77,15.74],[2006.90,15.82],[2007.04,15.82],[2007.17,15.87],[2007.30,15.90],[2007.44,15.82],[2007.57,15.87],[2007.70,16.02],[2007.83,15.98],[2007.97,15.82],[2008.10,15.74],[2008.23,15.28],[2008.36,14.81],[2008.50,14.35],[2008.63,14.03],[2008.76,13.88],[2008.89,13.57],[2009.03,13.26],[2009.16,12.63],[2009.29,11.70],[2009.42,10.61],[2009.56,9.37],[2009.69,8.12],[2009.82,7.35],[2009.95,6.96],[2010.09,7.81],[2010.17,9.06],[2010.27,9.99],[2010.35,10.30],[2010.48,10.77],[2010.62,11.08],[2010.75,11.55],[2010.88,11.86],[2011.01,12.17],[2011.15,12.32],[2011.28,12.40],[2011.41,12.48],[2011.55,12.56],[2011.68,12.48],[2011.81,12.56],[2011.94,12.63],[2012.08,12.56],[2012.21,12.48],[2012.34,12.40],[2012.47,12.17],[2012.61,12.09],[2012.74,11.93]];

// Figure 22: World EBIT/Sales (%, right scale)
const ebit22 = [[1985.03,12.27],[1985.16,12.44],[1985.29,12.41],[1985.56,12.34],[1985.82,12.27],[1985.96,11.82],[1986.09,11.65],[1986.22,11.75],[1986.49,11.71],[1986.75,11.54],[1986.88,11.47],[1986.96,10.36],[1987.10,10.29],[1987.41,10.29],[1987.68,10.36],[1987.81,10.43],[1987.89,10.99],[1988.02,11.06],[1988.42,11.06],[1988.74,11.06],[1988.87,11.26],[1989.01,11.33],[1989.14,11.26],[1989.22,9.74],[1989.59,9.78],[1989.80,9.74],[1989.93,10.16],[1990.33,10.16],[1990.73,10.16],[1990.86,10.02],[1990.99,9.60],[1991.13,9.53],[1991.39,9.46],[1991.66,9.43],[1991.92,9.33],[1992.05,9.05],[1992.19,8.56],[1992.32,8.36],[1992.72,8.32],[1992.98,8.22],[1993.12,7.66],[1993.25,7.46],[1993.51,7.39],[1993.78,7.49],[1993.91,7.66],[1993.99,7.46],[1994.10,7.39],[1994.44,7.42],[1994.84,7.42],[1994.92,8.29],[1995.05,8.22],[1995.32,8.22],[1995.63,8.29],[1995.90,8.49],[1996.03,8.84],[1996.43,8.98],[1996.56,9.05],[1996.83,9.15],[1996.96,9.33],[1997.23,9.46],[1997.36,9.50],[1997.62,9.39],[1997.76,9.46],[1997.89,9.88],[1998.29,9.91],[1998.69,9.98],[1998.82,10.02],[1998.95,9.53],[1999.08,9.22],[1999.48,9.33],[1999.61,9.46],[1999.75,9.60],[1999.82,10.16],[1999.93,10.36],[2000.04,10.29],[2000.15,10.05],[2000.28,10.16],[2000.41,10.23],[2000.54,10.43],[2000.67,10.57],[2000.81,10.71],[2000.94,10.78],[2001.07,10.88],[2001.20,10.92],[2001.34,10.85],[2001.47,10.36],[2001.60,10.02],[2001.73,9.60],[2001.87,9.12],[2002.00,8.22],[2002.13,7.73],[2002.26,7.32],[2002.40,6.56],[2002.53,6.52],[2002.66,6.62],[2002.79,6.80],[2002.93,6.66],[2003.06,6.49],[2003.19,6.90],[2003.32,7.11],[2003.46,7.25],[2003.59,7.39],[2003.72,7.52],[2003.86,8.08],[2003.99,8.63],[2004.12,9.19],[2004.25,9.60],[2004.39,10.02],[2004.52,10.30],[2004.65,10.43],[2004.78,10.57],[2004.92,10.85],[2005.05,11.06],[2005.18,11.26],[2005.31,11.54],[2005.45,11.75],[2005.58,11.89],[2005.71,12.03],[2005.84,12.30],[2005.98,12.37],[2006.11,12.23],[2006.37,12.20],[2006.64,12.30],[2006.77,12.44],[2006.90,12.58],[2007.04,12.72],[2007.17,12.82],[2007.30,12.93],[2007.44,13.00],[2007.57,13.07],[2007.70,12.86],[2007.83,12.65],[2007.97,12.93],[2008.10,12.86],[2008.23,12.79],[2008.36,12.65],[2008.50,12.51],[2008.63,12.30],[2008.76,11.89],[2008.89,11.20],[2009.03,10.16],[2009.16,8.91],[2009.29,8.77],[2009.42,8.43],[2009.56,8.08],[2009.69,7.80],[2009.82,7.77],[2009.90,8.43],[2010.01,9.19],[2010.11,9.81],[2010.22,10.43],[2010.35,10.64],[2010.48,10.78],[2010.62,10.92],[2010.75,11.06],[2010.88,11.54],[2011.01,11.92],[2011.28,11.99],[2011.55,12.03],[2011.68,12.23],[2011.76,12.27],[2011.86,12.03],[2011.97,11.89],[2012.08,11.68],[2012.21,11.40],[2012.34,11.13],[2012.47,11.06],[2012.61,10.71],[2012.69,10.54]];

// Tick values
const xTicks75 = [1975, 1980, 1985, 1990, 1995, 2000, 2005, 2010];
const xTicks87 = [1987, 1990, 1993, 1996, 1999, 2002, 2005, 2008, 2011];
const xTicks73 = [1973, 1978, 1983, 1988, 1993, 1998, 2003, 2008, 2013];
const yTicks17 = [-3, -2, -1, 0, 1, 2, 3];
const rTicks17 = [-60, -40, -20, 0, 20, 40, 60];
const yTicks18 = [0.5, 1, 1.5, 2, 2.5, 3, 3.5, 4, 4.5];
const yTicks19 = [5, 7, 9, 11, 13, 15, 17, 19, 21, 23, 25];
const yTicks20 = [5, 10, 15, 20, 25, 30, 35, 40];
const yTicks21 = [4, 6, 8, 10, 12, 14, 16];
const rTicks21 = [0.5, 0.7, 0.9, 1.1, 1.3, 1.5, 1.7, 1.9, 2.1, 2.3, 2.5];
const yTicks22 = [0, 2, 4, 6, 8, 10, 12, 14, 16, 18];
const rTicks22 = [6, 7, 8, 9, 10, 11, 12, 13, 14];

// Annotations (Figure 17)
const arrows17 = [{x: 1993.94, y1: 0.91, y2: 2.12}, {x: 1996.70, y1: -1.45, y2: -2.66}];
const notes17 = [{x: 1995.78, y: 1.61, label: "Expensive"}, {x: 1997.40, y: -2.07, label: "Cheap"}];

// ---------------- RENDER ----------------
const FONT = '"Noto Sans", "DejaVu Sans", sans-serif';
const BLUE = "#4a7ebb", GREYLINE = "#a6a6a6", GREYAREA = "#a2a2a2", INK = "#161616";
const page = document.getElementById("page");
const yearLabel = y => "1/" + String(Math.round(y) % 100).padStart(2, "0");

function el(tag, cls, styles, text) {
  const d = document.createElement(tag);
  if (cls) d.className = cls;
  Object.assign(d.style, styles || {});
  if (text != null) d.textContent = text;
  page.appendChild(d);
  return d;
}
function txt(text, x, yc, size, extra) {
  return el("div", "t", Object.assign({left: x + "px", top: (yc - 0.63 * size) + "px", fontSize: size + "px", lineHeight: (1.2 * size) + "px"}, extra || {}), text);
}

// Header
txt("17 October 2012", 157, 96, 27);
txt("The Investigator", 157, 137, 27);
el("div", null, {position: "absolute", left: "151px", top: "256px", width: "1285px", height: "2px", background: "#6a6a6a"});
txt("Global \u2013 valuation", 156, 291, 40, {color: "#1b98d5"});
const para = el("div", "para", {top: "315.3px"});
["High policy uncertainty, and the attendant flight from junior tranches of the capital",
 "structure, along with a dismal prior decade of equity returns keeps them \u201Ccheap\u201D.",
 "Reduced policy uncertainty and losses from bond portfolios are likely to be required as",
 "catalysts to unlock value in equities."].forEach((line, i, arr) => {
  const d = document.createElement("div");
  d.textContent = line;
  if (i === arr.length - 1) d.className = "last";
  para.appendChild(d);
});

// Logo
const logo = document.createElementNS("http://www.w3.org/2000/svg", "svg");
logo.setAttribute("width", "142"); logo.setAttribute("height", "140");
logo.style.position = "absolute"; logo.style.left = "1772px"; logo.style.top = "67px";
logo.innerHTML = '<rect x="1.5" y="1.5" width="140" height="137" fill="#0018a8"/>' +
  '<rect x="21" y="21.3" width="100" height="98.4" fill="#ffffff"/>' +
  '<polygon points="82,34.7 109.5,34.7 59,105.7 32.6,105.7" fill="#0018a8"/>';
page.appendChild(logo);

// Figure title bars
[["Figure 17: Composite valuation index", 154.5, 521.8],
 ["Figure 18: Price-to-book value", 1051, 521.8],
 ["Figure 19: 12m forward P/E", 154.5, 1205.8],
 ["Figure 20: 12m trailing P/E", 1051, 1205.8],
 ["Figure 21: EV multiples", 154.5, 1869.9],
 ["Figure 22: ROE and EBIT margin", 1051, 1869.9]].forEach(([label, x, y]) => {
  const b = el("div", "bar", {left: x + "px", top: y + "px", width: "849px", height: "51px"});
  const s = document.createElement("span");
  s.textContent = label; s.style.top = (28.6 - 0.63 * 30) + "px";
  b.appendChild(s);
});

// Chart builder
function chart(c) {
  const base = c.base;
  const marks = [...(c.under || [])];
  marks.push(Plot.ruleY([base], {stroke: "#000", strokeWidth: 2.6}));
  marks.push(Plot.ruleX(c.xDomain, {stroke: "#000", strokeWidth: 2.6}));
  marks.push(...(c.over || []));
  if (base === c.yDomain[0]) {
    marks.push(Plot.axisX({ticks: c.xTicks, tickFormat: yearLabel, tickSize: 9, tickPadding: 19, strokeWidth: 2.4, fontSize: 24.5, label: null}));
  } else {
    marks.push(Plot.axisX({ticks: c.xTicks, tickFormat: yearLabel, tickSize: 0, tickPadding: 28, fontSize: 24.5, label: null}));
    marks.push(Plot.ruleX(c.xTicks, {y1: base, y2: base - c.tickDrop, stroke: "#000", strokeWidth: 2.4}));
  }
  marks.push(Plot.axisY({anchor: "left", ticks: c.yTicks, tickFormat: c.yFmt, tickSize: 8, tickPadding: 15, strokeWidth: 2.4, fontSize: 24.5, label: null}));
  marks.push(Plot.axisY({anchor: "right", ticks: c.rTicks, tickFormat: c.rFmt, tickSize: 8, tickPadding: 17, strokeWidth: 2.4, fontSize: 24.5, label: null}));
  marks.push(...(c.extra || []));
  const svg = Plot.plot({
    width: 880, height: 490,
    marginTop: c.m[0], marginRight: c.m[1], marginBottom: c.m[2], marginLeft: c.m[3],
    x: {domain: c.xDomain},
    y: {domain: c.yDomain},
    style: {fontFamily: FONT, fontSize: "24px", color: INK, background: "transparent", overflow: "visible"},
    marks
  });
  const holder = el("div", "chart", {left: c.left + "px", top: c.top + "px", width: "880px", height: "490px"});
  holder.appendChild(svg);
}
const lineOpts = (color, yf) => ({x: d => d[0], y: yf || (d => d[1]), stroke: color, strokeWidth: 2.3});

// Figure 17
chart({
  left: 150, top: 590, m: [35.7, 151.5, 68, 103.7],
  xDomain: [1975, 2013.41], yDomain: [-3, 3], base: 0, tickDrop: 0.13,
  xTicks: xTicks75, yTicks: yTicks17, yFmt: d => d.toFixed(1),
  rTicks: rTicks17.map(r => r / 20), rFmt: d => Math.round(d * 20) + "%",
  under: [Plot.areaY(msci17, {x: d => d[0], y: d => d[1] / 20, fill: GREYAREA})],
  over: [Plot.line(composite17, lineOpts(BLUE))],
  extra: [
    Plot.arrow(arrows17, {x1: "x", x2: "x", y1: "y1", y2: "y2", stroke: BLUE, strokeWidth: 1.6, headLength: 26, headAngle: 52}),
    Plot.text(notes17, {x: "x", y: "y", text: "label", textAnchor: "start", fontSize: 27, fill: INK})
  ]
});
// Figure 18
chart({
  left: 1040, top: 590, m: [40.6, 126.6, 67.8, 111],
  xDomain: [1975, 2013.34], yDomain: [0.5, 4.5], base: 0.5,
  xTicks: xTicks75, yTicks: yTicks18, yFmt: d => d.toFixed(1), rTicks: yTicks18, rFmt: d => d.toFixed(1),
  over: [Plot.line(pbv18, lineOpts(BLUE))]
});
// Figure 19
chart({
  left: 150, top: 1280, m: [34.6, 128.2, 70.7, 101.5],
  xDomain: [1987, 2013.41], yDomain: [5, 25], base: 5,
  xTicks: xTicks87, yTicks: yTicks19, yFmt: d => String(d), rTicks: yTicks19, rFmt: d => String(d),
  over: [Plot.line(fpe19, lineOpts(BLUE))]
});
// Figure 20
chart({
  left: 1040, top: 1280, m: [35.7, 120, 70, 108.5],
  xDomain: [1973, 2013.5], yDomain: [5, 40], base: 5,
  xTicks: xTicks73, yTicks: yTicks20, yFmt: d => String(d), rTicks: yTicks20, rFmt: d => String(d),
  over: [Plot.line(tpe20, lineOpts(BLUE))]
});
// Figure 21
const toLeft21 = r => 4 + (r - 0.5) * 6;
chart({
  left: 150, top: 1940, m: [36.6, 136.6, 69.9, 101.5],
  xDomain: [1987, 2013.44], yDomain: [4, 16], base: 4,
  xTicks: xTicks87, yTicks: yTicks21, yFmt: d => String(d),
  rTicks: rTicks21.map(toLeft21), rFmt: d => ((d - 4) / 6 + 0.5).toFixed(1),
  over: [Plot.line(evebitda21, lineOpts(BLUE)), Plot.line(evsales21, lineOpts(GREYLINE, d => toLeft21(d[1])))]
});
// Figure 22
const toLeft22 = r => (r - 6) * 2.25;
chart({
  left: 1040, top: 1940, m: [35.8, 134.9, 68.6, 120.4],
  xDomain: [1973, 2013.53], yDomain: [0, 18], base: 0,
  xTicks: xTicks73, yTicks: yTicks22, yFmt: d => d + "%",
  rTicks: rTicks22.map(toLeft22), rFmt: d => Math.round(d / 2.25 + 6) + "%",
  over: [Plot.line(roe22, lineOpts(BLUE)), Plot.line(ebit22, lineOpts(GREYLINE, d => toLeft22(d[1])))]
});

// Legends
function legLine(x1, x2, y, color) {
  el("div", null, {position: "absolute", left: x1 + "px", top: (y - 1.25) + "px", width: (x2 - x1) + "px", height: "2.5px", background: color});
}
const LS = 27, LSP = {letterSpacing: "-0.2px"};
el("div", null, {position: "absolute", left: "275px", top: "621px", width: "69px", height: "17px", background: GREYAREA});
txt("MSCI AC World 12m fd rtn (RS)", 351, 628, LS);
legLine(273, 341, 669, BLUE);
txt("World Composite Valuation Index (S.D., LS)", 351, 669, LS, {letterSpacing: "-0.35px"});
legLine(1374.5, 1442, 642.5, BLUE);
txt("World P/BV", 1450.5, 642.5, LS, LSP);
legLine(397, 463.5, 1337.5, BLUE);
txt("World 12m Forward P/E", 471.8, 1337.5, LS, LSP);
legLine(1331, 1398, 1350, BLUE);
txt("World Trailing P/E", 1406, 1350, LS, LSP);
legLine(405, 473.5, 1973.5, BLUE);
txt("World EV/EBITDA (LS)", 481.8, 1973.5, LS, LSP);
legLine(405, 473.5, 2007, GREYLINE);
txt("World EV/SALES (RS)", 481.8, 2007, LS, LSP);
legLine(1173, 1238.6, 1990, BLUE);
txt("World ROE (LS)", 1247, 1990, LS, LSP);
legLine(1449, 1514, 1990, GREYLINE);
txt("World EBIT/Sales (RS)", 1522.7, 1990, LS, LSP);

// Sources
function src(lines, x, top) {
  const d = el("div", "src", {left: x + "px", top: top + "px"});
  d.innerHTML = lines.join("<br>");
}
src(["Source: Deutsche Bank, IBES, MSCI. Note: Composite valuation index is the average of trailing P/E, 12m",
     "forward P/E, P/Cash Earnings, P/BV, Dividend Yield, EV/EBITDA and EV/Sales, normalized over entire",
     "history"], 154.5, 1102);
src(["Source: Deutsche Bank, MSCI, DataStream"], 1051, 1102);
src(["Source: Deutsche Bank, MSCI, I/B/E/S"], 154.5, 1786);
src(["Source: Deutsche Bank, MSCI, DataStream"], 1051, 1786);
src(["Source: Deutsche Bank, MSCI, FactSet"], 154.5, 2450);
src(["Source: Deutsche Bank, MSCI, FactSet"], 1051, 2450);

// Footer
el("div", null, {position: "absolute", left: "155px", top: "2548px", width: "1747px", height: "4px", background: "#d4d4d4"});
txt("Deutsche Bank AG/Hong Kong", 157, 2600, 27.5);
const pg = txt("Page 21", 0, 2600, 27.5);
pg.style.left = ""; pg.style.right = (2048 - 1892) + "px";
</script>
</body>
</html>
